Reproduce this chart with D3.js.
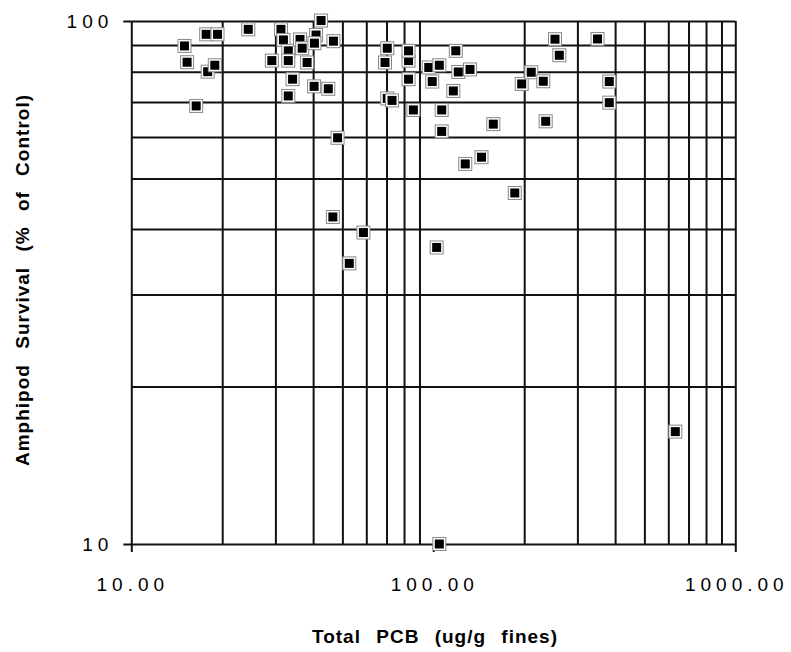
<!DOCTYPE html>
<html>
<head>
<meta charset="utf-8">
<script src="https://cdn.jsdelivr.net/npm/d3@7"></script>
<style>
  body { margin: 0; background: #fff; }
  svg { display: block; font-family: "Liberation Sans", Arial, sans-serif; }
  .grid line { stroke: #111; stroke-width: 2; }
  .grid path { display: none; }
  .axis path, .axis line { stroke: #111; stroke-width: 2; }
  .axis text { font-size: 19px; letter-spacing: 5px; fill: #000; }
  .title { font-size: 19px; font-weight: bold; letter-spacing: 1px; word-spacing: 9px; }
</style>
</head>
<body>
<svg id="chart" width="791" height="652"></svg>
<script>
// Total PCB (ug/g fines)
const pcb = [
  15.0, 15.3, 16.4, 17.7, 17.9, 18.9, 19.3, 24.4, 29.2, 31.3,
  31.9, 33.1, 33.1, 33.1, 34.2, 36.2, 36.8, 38.2, 40.3, 40.9,
  40.4, 42.5, 44.9, 46.5, 46.7, 48.2, 52.7, 58.7, 69.2, 70.4,
  70.4, 73.0, 82.8, 82.8, 82.8, 85.9, 96.6, 99.2, 102.6, 104.7,
  104.7, 106.6, 106.6, 116.5, 118.7, 121.0, 127.6, 132.3, 144.4, 158.0,
  186.1, 196.2, 211.0, 231.3, 235.6, 252.9, 261.4, 349.8, 382.6, 382.6,
  632.9
];
// Amphipod survival (% of control)
const survival = [
  89.6, 83.4, 68.8, 94.3, 80.0, 82.3, 94.3, 96.4, 84.0, 96.4,
  92.0, 87.7, 84.0, 71.9, 77.4, 92.2, 88.7, 83.3, 75.0, 94.0,
  90.7, 100.2, 74.2, 42.2, 91.5, 59.8, 34.4, 39.4, 83.3, 88.7,
  71.1, 70.5, 84.0, 87.7, 77.4, 67.6, 81.5, 76.6, 36.9, 82.3,
  10.0, 67.6, 61.5, 73.5, 87.7, 79.9, 53.3, 80.8, 54.9, 63.5,
  46.9, 75.8, 79.8, 76.7, 64.3, 92.3, 86.0, 92.4, 76.6, 69.8,
  16.4
];
const xGrid = [20, 30, 40, 50, 60, 70, 80, 90, 200, 300, 400, 500, 600, 700, 800, 900, 1000];
const yGrid = [20, 30, 40, 50, 60, 70, 80, 90, 100];
const xTicks = [10, 100, 1000];
const yTicks = [10, 100];

const margin = { top: 21, left: 131.3 },
      width  = 604,
      height = 523;

const svg = d3.select("#chart");

const x = d3.scaleLog().domain([10, 1000]).range([margin.left, margin.left + width]);
const y = d3.scaleLog().domain([10, 100]).range([margin.top + height, margin.top]);

// gridlines
svg.append("g")
  .attr("class", "grid")
  .attr("transform", `translate(0, ${margin.top + height})`)
  .call(d3.axisBottom(x).tickValues(xGrid).tickSize(-height).tickFormat(""));

svg.append("g")
  .attr("class", "grid")
  .attr("transform", `translate(${margin.left}, 0)`)
  .call(d3.axisLeft(y).tickValues(yGrid).tickSize(-width).tickFormat(""));

// axes
const xAxis = svg.append("g")
  .attr("class", "axis")
  .attr("transform", `translate(0, ${margin.top + height})`)
  .call(d3.axisBottom(x).tickValues(xTicks).tickSize(8).tickSizeOuter(0).tickFormat(d3.format(".2f")));
xAxis.selectAll("text").attr("y", 34).attr("dx", "1px");

const yAxis = svg.append("g")
  .attr("class", "axis")
  .attr("transform", `translate(${margin.left}, 0)`)
  .call(d3.axisLeft(y).tickValues(yTicks).tickSize(8).tickSizeOuter(0).tickFormat(d3.format("d")));
yAxis.selectAll("text").attr("x", -18);

// markers
const pts = svg.append("g")
  .selectAll("g")
  .data(pcb.map((d, i) => [d, survival[i]]))
  .join("g")
  .attr("transform", d => `translate(${x(d[0])}, ${y(d[1])})`);

pts.append("rect")
  .attr("x", -6.5).attr("y", -6.5)
  .attr("width", 13).attr("height", 13)
  .attr("fill", "#fff")
  .attr("stroke", "#888")
  .attr("stroke-width", 1);

pts.append("rect")
  .attr("x", -4.5).attr("y", -4.5)
  .attr("width", 9).attr("height", 9)
  .attr("fill", "#000");

// axis titles
svg.append("text")
  .attr("class", "title")
  .attr("x", 435)
  .attr("y", 643)
  .attr("text-anchor", "middle")
  .text("Total PCB (ug/g fines)");

svg.append("text")
  .attr("class", "title")
  .attr("transform", `translate(29, 280) rotate(-90)`)
  .attr("text-anchor", "middle")
  .text("Amphipod Survival (% of Control)");
</script>
</body>
</html>
